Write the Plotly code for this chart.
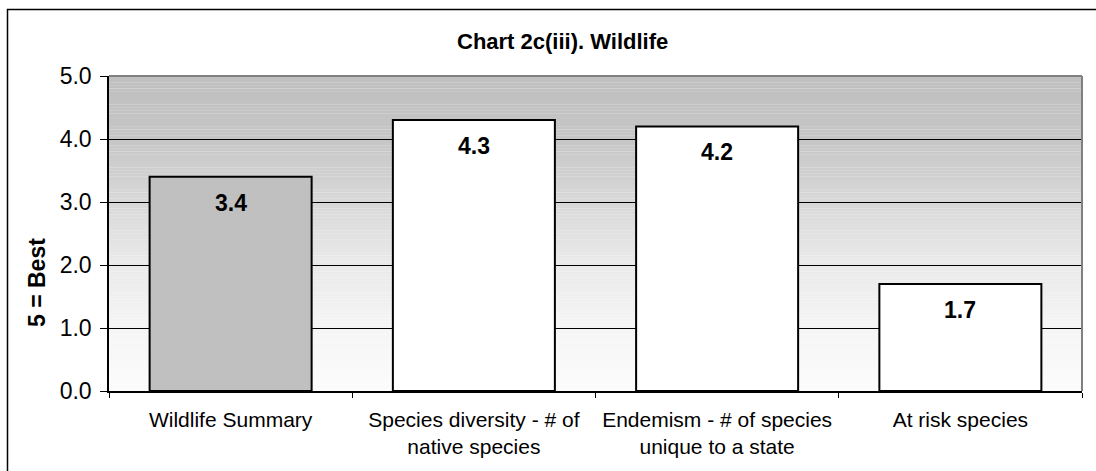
import plotly.graph_objects as go

categories = ["Wildlife Summary",
              "Species diversity - # of<br>native species",
              "Endemism - # of species<br>unique to a state",
              "At risk species"]
values = [3.4, 4.3, 4.2, 1.7]
bar_colors = ["#c0c0c0", "#ffffff", "#ffffff", "#ffffff"]
y_ticks = [0, 1, 2, 3, 4, 5]
y_ticktext = ["0.0", "1.0", "2.0", "3.0", "4.0", "5.0"]

W, H = 1096, 471
L, R, T, B = 109, 14, 76, 80
FONT = "Liberation Sans, Arial, sans-serif"

fig = go.Figure()
fig.add_trace(go.Bar(
    x=categories, y=values,
    marker=dict(color=bar_colors, line=dict(color="#000000", width=2)),
    hoverinfo="skip",
))

# gradient background (gray top -> white bottom)
stops = [(0.0, 0xfc), (1.0, 0xf5), (2.0, 0xea), (3.0, 0xd8), (4.0, 0xc6), (5.0, 0xbf)]
def shade(v):
    for (a, ca), (b, cb) in zip(stops[:-1], stops[1:]):
        if a <= v <= b:
            t = (v - a) / (b - a)
            return int(round(ca + (cb - ca) * t))
    return stops[-1][1]

shapes = []
n = 100
for i in range(n):
    y0 = 5.0 * i / n
    y1 = 5.0 * (i + 1) / n
    c = shade((y0 + y1) / 2)
    shapes.append(dict(type="rect", xref="x domain", yref="y", x0=0, x1=1, y0=y0, y1=y1 + 0.002,
                       fillcolor=f"rgb({c},{c},{c})", line=dict(width=0), layer="below"))
# plot area border (top and right, gray)
shapes.append(dict(type="line", xref="x domain", yref="y domain", x0=0, x1=1, y0=1, y1=1,
                   line=dict(color="#808080", width=2), layer="above"))
shapes.append(dict(type="line", xref="x domain", yref="y domain", x0=1, x1=1, y0=0, y1=1,
                   line=dict(color="#808080", width=2), layer="above"))
# outer chart border
pw, ph = W - L - R, H - T - B
shapes.append(dict(type="rect", xref="paper", yref="paper",
                   x0=(7.5 - L) / pw, x1=(1110 - L) / pw,
                   y0=(H - B - 490) / ph, y1=(H - B - 9.5) / ph,
                   line=dict(color="#000000", width=1.5), layer="above"))

annotations = []
for c, v in zip(categories, values):
    annotations.append(dict(x=c, y=v, xref="x", yref="y", text=f"<b>{v:.1f}</b>",
                            showarrow=False, yanchor="middle", yshift=-26,
                            font=dict(family=FONT, size=23, color="#000000")))
annotations.append(dict(xref="paper", yref="paper", x=(562 - L) / pw, y=(H - B - 42) / ph,
                        text="<b>Chart 2c(iii). Wildlife</b>", showarrow=False,
                        xanchor="center", yanchor="middle",
                        font=dict(family=FONT, size=22, color="#000000")))
annotations.append(dict(xref="paper", yref="paper", x=(37 - L) / pw, y=(H - B - 283) / ph,
                        text="<b>5 = Best</b>", showarrow=False, textangle=-90,
                        xanchor="center", yanchor="middle",
                        font=dict(family=FONT, size=23, color="#000000")))

fig.update_layout(
    width=W, height=H,
    margin=dict(l=L, r=R, t=T, b=B, pad=0),
    paper_bgcolor="#ffffff", plot_bgcolor="rgba(0,0,0,0)",
    showlegend=False, bargap=0.334,
    shapes=shapes, annotations=annotations,
    font=dict(family=FONT, color="#000000"),
)
fig.update_xaxes(
    showline=True, linecolor="#000000", linewidth=1.5,
    ticks="outside", tickson="boundaries", ticklen=5, tickcolor="#000000",
    ticklabelstandoff=9,
    showgrid=False, tickfont=dict(size=21, family=FONT, color="#000000"),
    fixedrange=True,
)
fig.update_yaxes(
    range=[0, 5], tickvals=y_ticks, ticktext=y_ticktext,
    showline=True, linecolor="#000000", linewidth=1.5,
    ticks="outside", ticklen=7, tickcolor="#000000",
    ticklabelstandoff=4,
    showgrid=True, gridcolor="#000000", gridwidth=1,
    zeroline=False, tickfont=dict(size=23, family=FONT, color="#000000"),
    fixedrange=True,
)

fig.write_html("out.html", config={"displayModeBar": False},
               post_script="document.body.style.margin='0';document.body.style.overflow='hidden';")
